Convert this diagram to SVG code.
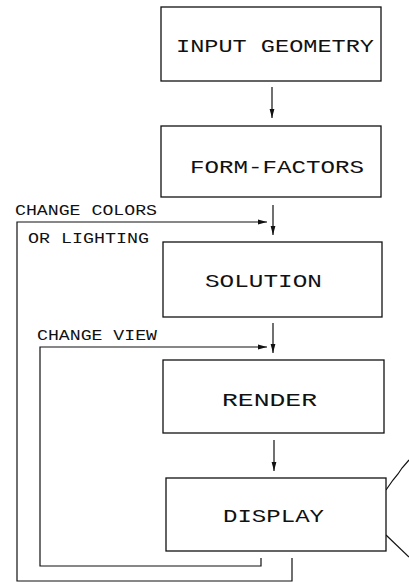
<svg xmlns="http://www.w3.org/2000/svg" width="409" height="582" viewBox="0 0 409 582">
<style>
.box{fill:#fff;stroke:#111;stroke-width:1.3}
.ln{fill:none;stroke:#111;stroke-width:1.2}
.t{font-family:"Liberation Mono","DejaVu Sans Mono",monospace;font-size:18px;fill:#111}
.s{font-family:"Liberation Mono","DejaVu Sans Mono",monospace;font-size:14px;fill:#111}
</style>
<defs>
<marker id="ah" markerUnits="userSpaceOnUse" markerWidth="10" markerHeight="6" refX="9" refY="3" orient="auto">
<path d="M0,0.6 L9,3 L0,5.4 z" fill="#111"/>
</marker>
</defs>
<rect width="409" height="582" fill="#fff"/>
<g id="connectors">
<line class="ln" x1="272" y1="87" x2="272" y2="118" marker-end="url(#ah)"/>
<line class="ln" x1="273" y1="205" x2="273" y2="235" marker-end="url(#ah)"/>
<line class="ln" x1="273" y1="323" x2="273" y2="353" marker-end="url(#ah)"/>
<line class="ln" x1="274" y1="440" x2="274" y2="471" marker-end="url(#ah)"/>
<path class="ln" d="M292,558 V581 H17 V222 H267" marker-end="url(#ah)"/>
<path class="ln" d="M261,558 V566 H40 V347 H267" marker-end="url(#ah)"/>
<path class="ln" d="M386,490 L393,480 L398,474 L402,468 L409,460"/>
<path class="ln" d="M386,535 L409,557"/>
<text class="s" x="15" y="215" textLength="142" lengthAdjust="spacingAndGlyphs">CHANGE COLORS</text>
<text class="s" x="28" y="243" textLength="121" lengthAdjust="spacingAndGlyphs">OR LIGHTING</text>
<text class="s" x="37" y="340" textLength="120" lengthAdjust="spacingAndGlyphs">CHANGE VIEW</text>
</g>
<g id="input-geometry">
<rect class="box" x="161" y="7" width="220" height="74"/>
<text class="t" x="176" y="52" textLength="198" lengthAdjust="spacingAndGlyphs">INPUT GEOMETRY</text>
</g>
<g id="form-factors">
<rect class="box" x="161" y="126" width="220" height="71"/>
<text class="t" x="190" y="173" textLength="174" lengthAdjust="spacingAndGlyphs">FORM-FACTORS</text>
</g>
<g id="solution">
<rect class="box" x="163" y="242" width="219" height="75"/>
<text class="t" x="205" y="287" textLength="117" lengthAdjust="spacingAndGlyphs">SOLUTION</text>
</g>
<g id="render">
<rect class="box" x="163" y="360" width="221" height="73"/>
<text class="t" x="222" y="406" textLength="95" lengthAdjust="spacingAndGlyphs">RENDER</text>
</g>
<g id="display">
<rect class="box" x="166" y="478" width="220" height="73"/>
<text class="t" x="223" y="522" textLength="101" lengthAdjust="spacingAndGlyphs">DISPLAY</text>
</g>
</svg>
